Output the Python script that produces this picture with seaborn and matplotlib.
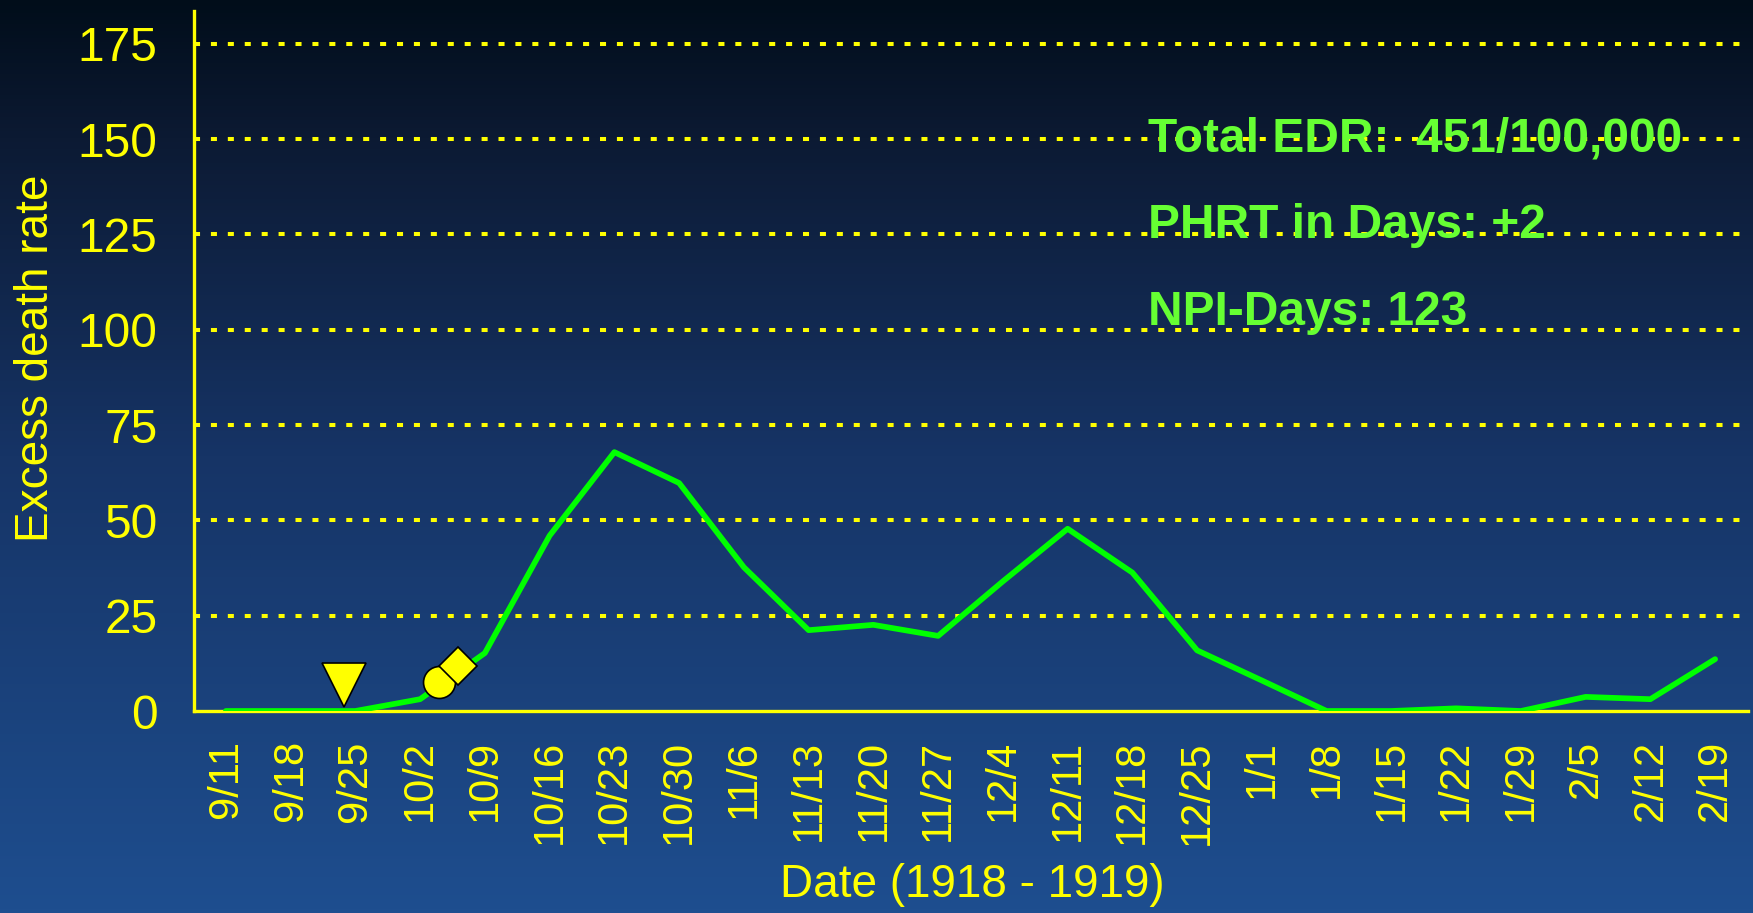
import numpy as np
import matplotlib
matplotlib.use("Agg")
import matplotlib.pyplot as plt
from matplotlib.colors import LinearSegmentedColormap
import pandas as pd
import seaborn as sns

# weekly dates and excess death rate per 100,000
dates = ["9/11", "9/18", "9/25", "10/2", "10/9", "10/16", "10/23", "10/30",
         "11/6", "11/13", "11/20", "11/27", "12/4", "12/11", "12/18", "12/25",
         "1/1", "1/8", "1/15", "1/22", "1/29", "2/5", "2/12", "2/19"]
excess_rate = [0, 0, 0, 3.1, 15.2, 46, 67.9, 59.8,
               37.7, 21.2, 22.6, 19.7, 34, 47.8, 36.3, 15.9,
               8, 0, 0, 0.7, 0, 3.7, 3.1, 13.6]

# event markers (category position, value)
first_case = (1.83, 6.8)
school_close = (3.29, 7.6)
gathering_ban = (3.59, 11.8)

y_ticks = [0, 25, 50, 75, 100, 125, 150, 175]
notes = ["Total EDR:  451/100,000", "PHRT in Days: +2", "NPI-Days: 123"]

df = pd.DataFrame({"idx": range(len(dates)), "rate": excess_rate})

sns.set_style("white")
plt.rcParams["font.family"] = ["Liberation Sans", "DejaVu Sans"]

W, H = 1753, 913
fig = plt.figure(figsize=(W / 100, H / 100), dpi=100)

# gradient background
bg = fig.add_axes([0, 0, 1, 1], zorder=-10)
cmap = LinearSegmentedColormap.from_list(
    "bg", [(0, "#010d1a"), (0.15, "#0c1a33"), (0.5, "#163466"), (1, "#1e4e8f")])
bg.imshow(np.linspace(0, 1, 256).reshape(-1, 1), aspect="auto", cmap=cmap,
          extent=[0, 1, 0, 1])
bg.axis("off")

yellow = "#ffff00"
ax = fig.add_axes([193.5 / W, 1 - 711 / H, (1747.5 - 193.5) / W, 700 / H])
ax.patch.set_alpha(0)

for v in y_ticks[1:]:
    ax.axhline(v, color=yellow, lw=2.9, linestyle=(0, (1.5, 2.7)), zorder=1)

sns.lineplot(data=df, x="idx", y="rate", ax=ax, color="#00ff00", lw=4.1,
             solid_capstyle="round", zorder=3)

ax.plot(*first_case, marker="v", ms=31, color=yellow, mec="black", mew=1.2,
        zorder=5, clip_on=False)
ax.plot(*school_close, marker="o", ms=23, color=yellow, mec="black", mew=1.2,
        zorder=5)
ax.plot(*gathering_ban, marker="D", ms=19.5, color=yellow, mec="black", mew=1.2,
        zorder=6)

ax.set_xlim(-0.5, len(dates) - 0.5)
ax.set_ylim(0, 183.6)

for s in ["top", "right"]:
    ax.spines[s].set_visible(False)
for s in ["left", "bottom"]:
    ax.spines[s].set_color(yellow)
    ax.spines[s].set_linewidth(2.4)

ax.set_yticks(y_ticks)
ax.set_yticklabels([str(v) for v in y_ticks])
ax.tick_params(axis="y", colors=yellow, labelsize=34.5, length=10, width=2,
               pad=16, direction="out")

ax.set_xticks(np.arange(-0.5, len(dates)), labels=[])
ax.set_xticks(np.arange(len(dates)), labels=dates, minor=True)
ax.tick_params(axis="x", which="major", colors=yellow, length=9, width=2,
               direction="out")
ax.tick_params(axis="x", which="minor", colors=yellow, length=0, labelsize=30,
               pad=21, labelrotation=90)
ax.set_xlabel("")
ax.set_ylabel("")

fig.text(36 / W, 1 - 358 / H, "Excess death rate", rotation=90, color=yellow,
         fontsize=33, ha="center", va="center")
fig.text(972 / W, 1 - 885 / H, "Date (1918 - 1919)", color=yellow,
         fontsize=33, ha="center", va="center")

for i, t in enumerate(notes):
    fig.text(1148 / W, 1 - (151.7 + 86.7 * i) / H, t, color="#66ff33",
             fontsize=34.5, fontweight="bold", ha="left", va="baseline", zorder=10)

fig.savefig("out.png", dpi=100)
